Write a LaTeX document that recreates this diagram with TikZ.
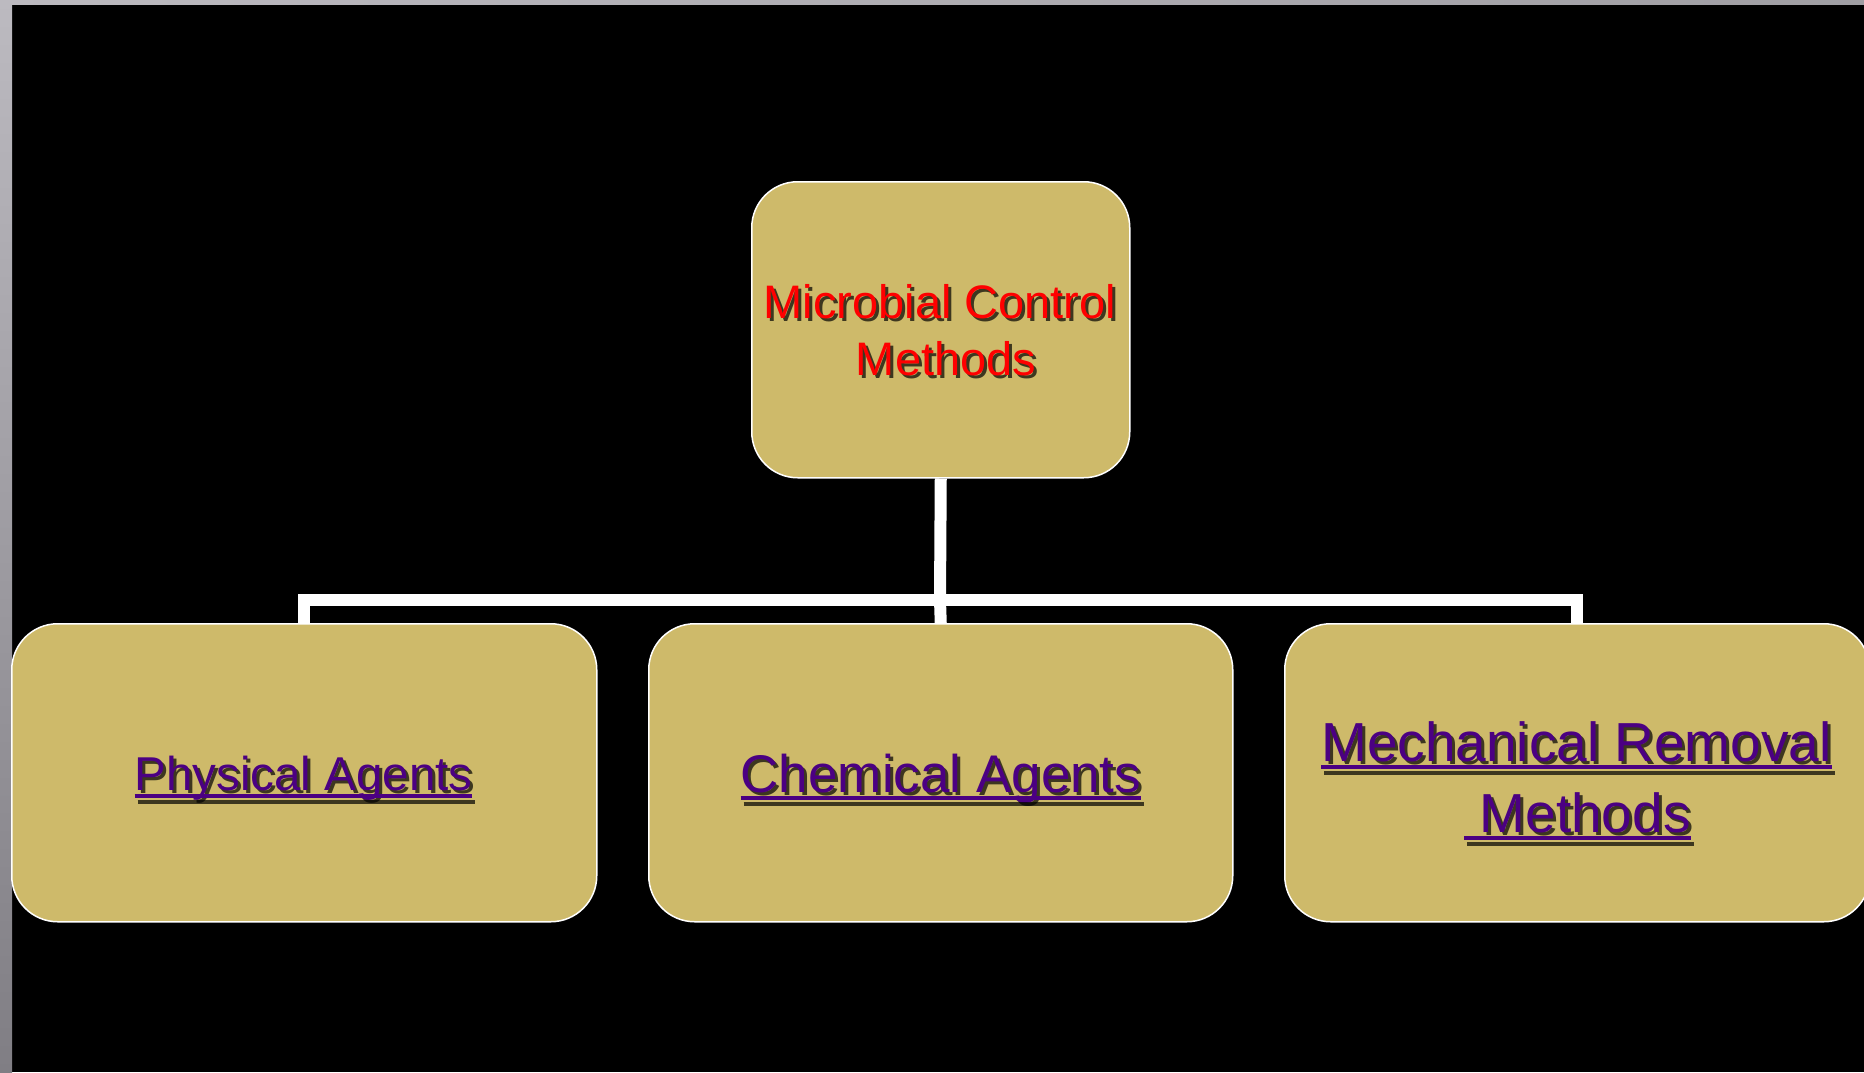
\documentclass[tikz,border=0pt]{standalone}
\usepackage{fontspec}
\setmainfont{Liberation Sans}
\definecolor{boxgold}{RGB}{206,186,106}
\definecolor{txtred}{RGB}{255,0,0}
\definecolor{txtpurple}{RGB}{75,0,130}
\definecolor{stripA}{RGB}{188,186,192}
\definecolor{stripB}{RGB}{128,126,132}
\newcommand{\shtext}[6]{%
  \node[txt, text=black, opacity=0.7, font=\fontsize{#4}{#4}\selectfont] (#1s) at (#2+3,#3+3) {#6};
  \node[txt, text=#5, font=\fontsize{#4}{#4}\selectfont] (#1) at (#2,#3) {#6};
}
\newcommand{\ulin}[1]{%
  \draw[ulline, black, opacity=0.7] ([yshift=-9pt]#1s.base west) -- ([yshift=-9pt]#1s.base east);
  \draw[ulline, txtpurple] ([yshift=-6pt]#1.base west) -- ([yshift=-6pt]#1.base east);
}
\begin{document}
\begin{tikzpicture}[x=1pt,y=-1pt,
  txt/.style={inner sep=0pt, outer sep=0pt, anchor=base},
  ulline/.style={line width=3.5pt},
  gbox/.style={draw=white, line width=1.5pt, fill=boxgold, rounded corners=46pt, inner sep=0pt, anchor=north west},
  conn/.style={draw=white, line width=12pt, line join=miter}]
\useasboundingbox (0,0) rectangle (1864,1072);
\fill[black] (0,0) rectangle (1864,1072);
\shade[top color=stripA, bottom color=stripB] (0,0) rectangle (12,1072);
\shade[left color=stripA, right color=stripA!85!black] (0,0) rectangle (1864,4);
% boxes
\node[gbox, minimum width=378pt, minimum height=296pt] (top) at (751,181) {};
\node[gbox, minimum width=585pt, minimum height=298pt] (phys) at (11,623) {};
\node[gbox, minimum width=584pt, minimum height=298pt] (chem) at (648,623) {};
\node[gbox, minimum width=585pt, minimum height=298pt] (mech) at (1284,623) {};
% connectors
\coordinate (j) at (940,600);
\draw[conn] (top.south) -- (j);
\draw[conn] (phys.north) |- (j) -| (mech.north);
\draw[conn] (j) -- (chem.north);
% texts
\shtext{t1}{940}{318}{47}{txtred}{Microbial Control}
\shtext{t2}{946}{375}{47}{txtred}{Methods}
\shtext{p1}{303.5}{790}{47.5}{txtpurple}{Physical Agents}
\ulin{p1}
\shtext{c1}{941}{792}{53}{txtpurple}{Chemical Agents}
\ulin{c1}
\shtext{m1}{1576.5}{761}{55}{txtpurple}{Mechanical Removal}
\ulin{m1}
\shtext{m2}{1577.5}{832}{55}{txtpurple}{\ Methods}
\ulin{m2}
\end{tikzpicture}
\end{document}
